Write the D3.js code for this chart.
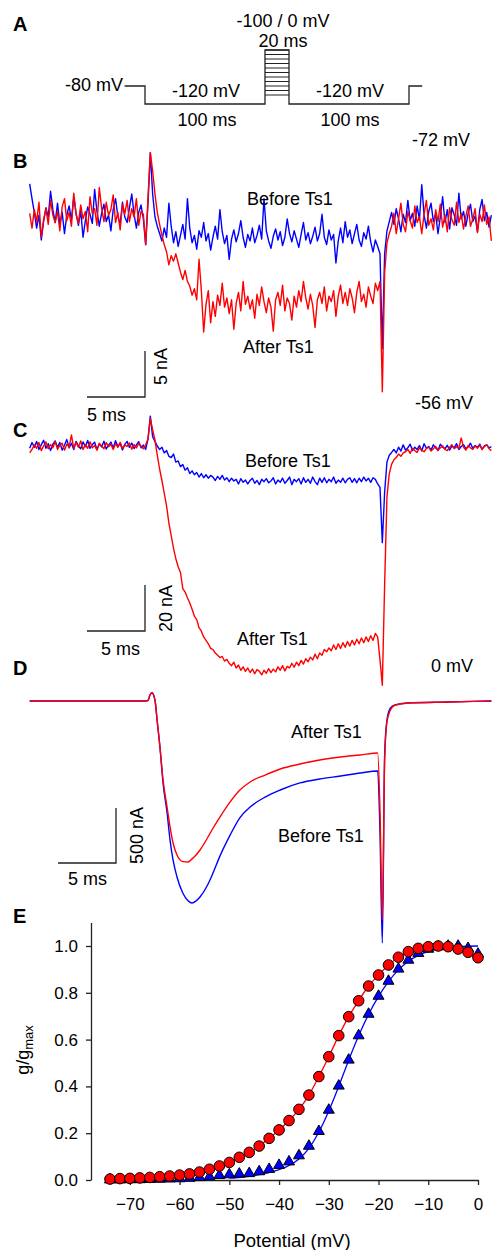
<!DOCTYPE html>
<html>
<head>
<meta charset="utf-8">
<script src="https://cdn.jsdelivr.net/npm/d3@7"></script>
<style>
  body { margin: 0; background: #fff; }
  svg { display: block; font-family: "Liberation Sans", Arial, Helvetica, sans-serif; }
</style>
</head>
<body>
<script>
// ---- data ----
// A: voltage protocol (ms, mV)
const protoT = [-17, 0, 0, 100, 100, 120, 120, 220, 220, 231]
const protoV = [-80, -80, -120, -120, 0, 0, -120, -120, -80, -80]
const stepLevels = [-100, -90, -80, -70, -60, -50, -40, -30, -20, -10, 0]

// B, C: sampled every 0.2 ms; "pre" ends just before the pulse, "pulse" starts at 0 ms, "post" at 20 ms (nA)
const DT = 0.2
const bBluePre = [3.6, 2.0, 0.5, -1.2, 0.2, -2.5, -0.5, 1.0, 0.0, 2.8, 0.8, -0.6, 1.5, -0.8, 0.5, -1.8, 0.2, 1.2, -0.3, 2.2, 0.4, -0.9, 0.7, -2.2, -0.4, 1.1, 0.3, -0.7, 3.0, 0.6, -1.0, 0.4, 1.4, -0.5, 0.2, -1.5, 0.8, 2.0, 0.1, -0.8, 1.6, 0.0, -0.6, 1.0, 2.5, 0.3, -1.2, 0.5, 1.3, -0.2, -3.0]
const bBluePulse = [1.5, 7.0, 2.5, 0.0, -1.0,
  -1.8, -2.6, -1.2, -2.2, 1.5, -1.0, -2.8, -1.6, -3.2, -2.0, -0.8, -2.4, 2.0, -1.2, -2.8, -2.0, -3.5, -1.5, -2.2, -0.6,
  -2.6, -1.8, -3.6, -2.2, -1.0, -2.4, 0.8, -1.6, -2.9, -2.0, -4.6, -2.4, -1.4, -2.7, -1.8, -0.4, -2.2, -3.3, -1.9, -2.6,
  -1.2, -2.8, -2.0, -0.9, -2.4, 2.0, -1.5, -2.6, -3.4, -2.1, -1.3, -2.5, -1.6, -3.1, -2.2, -0.2, -1.8, -2.7, -1.5, -2.4,
  -3.3, -1.9, -0.6, -2.5, -1.7, -2.9, -2.1, -1.1, -2.6, -1.8, 0.3, -2.2, -3.0, -1.4, -2.5, -1.9, -5.0, -2.6, -1.2, -2.8,
  -0.5, -2.2, -1.4, -2.9, -1.8, -0.8, -2.5, -3.2, -1.7, -2.4, -1.0, -2.7, -3.8, -2.5, -3.2]
const bBluePost = [-4.0, -14.3, -4.0, -1.5, -0.5,
  0.5, -0.8, 0.9, -0.2, -1.6, 0.3, -0.6, 1.8, -0.4, 0.4, -1.0, 1.2, -0.3, 3.5, 0.2, -1.2, 0.6, 1.5, -0.5, 0.3, -1.8, 0.0,
  2.2, -0.6, 0.8, -1.3, 1.0, 0.2, -0.9, 2.6, -0.2, 0.6, -1.0, 0.4, 1.4, -0.5, 0.1, -1.6, 0.8, 1.9, -0.4, 0.5, -1.1, 0.2]
const bRedPre = [0.4, -1.2, 0.8, -0.5, 1.6, -2.2, -0.3, 0.9, -0.8, 1.8, 0.2, -0.6, 0.6, -1.5, 1.1, 2.0, -0.4, 0.5, -1.0, 2.6, 0.3, -0.7, 1.3, -0.2, 0.6, -1.6, 2.2, 0.4, 0.9, -0.9, 3.2, 1.0, -0.5, 1.6, 0.2, 0.8, 2.4, -0.6, 0.5, -1.4, 1.4, 0.3, 1.8, -0.5, 0.9, 0.0, 2.0, -0.9, 0.6, 0.3, -3.0]
const bRedPulse = [2.0, 7.0, 5.0, 2.5, 0.5, -0.8, -2.0, -3.0, -3.8, -5.2, -4.2, -4.8, -4.0, -5.0, -6.0, -6.8, -5.8, -7.0, -7.5, -8.5, -7.8, -9.0, -4.6, -8.0, -12.5, -9.5,
  -8.0, -11.5, -9.2, -10.8, -8.5, -9.6, -7.2, -9.8, -8.8, -10.5, -9.0, -12.2, -9.4, -8.2, -10.2, -7.0, -9.5, -8.6, -10.0, -9.0,
  -11.0, -8.4, -9.6, -7.6, -9.2, -10.4, -8.8, -9.8, -12.4, -9.0, -8.2, -9.6, -7.4, -10.2, -8.8, -9.4, -11.2, -8.6, -9.8, -8.0,
  -9.2, -7.0, -8.8, -10.0, -8.4, -9.6, -12.0, -9.0, -8.2, -9.4, -7.6, -10.2, -8.6, -9.2, -8.0, -10.8, -8.6, -7.4, -9.4, -8.2,
  -9.6, -7.8, -8.8, -10.4, -8.2, -7.0, -9.2, -8.4, -9.8, -7.6, -8.6, -9.4, -7.2, -8.0]
const bRedPost = [-7.0, -19.0, -6.0, -2.8, -1.8,
  -1.0, 0.4, -1.8, -0.2, 1.5, -0.8, -1.6, 0.6, -0.4, -1.2, 1.2, -0.6, 0.0, -1.8, 0.3, 1.8, -0.9, -0.2, -1.4, 0.8, -0.5, 1.4,
  -1.1, 0.2, -1.6, 1.0, -0.3, -0.9, 1.6, -0.6, 0.4, -1.3, 0.1, 1.2, -1.0, -0.2, 0.9, -1.7, 0.3, -0.5, 1.3, -0.8, 0.0, -2.6]

const cBluePre = [-1.0, 1.5, -0.5, 2.0, -1.5, 0.5, 2.5, -1.0, 1.0, -2.0, 0.8, 2.2, -0.5, 1.5, -1.8, 0.3, 2.8, -0.8, 1.2, -1.5, 2.0, 0.0, -1.2, 1.8, -0.3, 2.4, -1.0, 0.6, 1.6, -1.6, 0.9, -0.4, 2.1, -1.3, 0.4, 1.7, -0.9, 2.3, -0.2, 1.1, -1.7, 0.7, 2.0, -0.6, 1.3, -1.1, 0.5, 1.9, -0.8, 0.4, -1.5]
const cBluePulse = [3.0, 13.0, 4.0, 2.0, 0.0, -1.5, -0.5, -3.0, -2.0, -4.5, -5.0, -3.5, -7.0, -6.5, -9.0, -8.0, -10.5, -9.5, -12.0, -10.8,
  -12.5, -11.5, -13.5, -12.0, -13.8, -12.5, -14.0, -12.8, -13.5, -15.0, -13.2, -14.5, -12.8, -14.8, -13.8, -15.5, -14.0, -15.2, -14.5, -16.5,
  -14.2, -15.8, -14.8, -16.5, -15.0, -14.0, -16.2, -15.0, -16.8, -14.5, -15.5, -14.2, -16.0, -15.2, -13.8, -16.5, -14.8, -15.8, -14.0, -16.2,
  -15.0, -13.5, -16.8, -14.5, -15.5, -14.2, -16.5, -13.8, -15.8, -14.5, -16.2, -13.5, -15.5, -16.8, -14.0, -15.8, -13.8, -16.0, -14.5, -15.5,
  -13.5, -16.2, -14.8, -15.8, -14.0, -16.0, -14.5, -13.8, -15.8, -14.2, -16.0, -14.0, -15.5, -13.5, -15.2, -14.0, -15.8, -13.8, -14.5, -16.5]
const cBluePost = [-18, -42, -20, -7, -4, -2.8,
  -1.5, -3.0, -0.5, -2.2, 0.5, -1.8, -0.8, 0.8, -2.0, -0.5, -1.5, 0.2, -2.2, 1.0, -1.0, -0.2, -1.8, 0.5, -0.8, -2.0, 0.8, -0.5,
  -1.2, 0.3, -1.8, 0.0, -0.8, 1.0, -1.5, -0.2, 0.6, -1.2, -0.4, 1.2, -1.0, 0.2, -0.6, 0.8, -1.4, 0.0, 0.5, -0.8, -0.3]
const cRedPre = [-3.0, -1.5, 0.5, -1.0, 1.5, -2.0, 0.0, 1.8, -1.2, 0.6, -0.8, 2.0, -1.5, 0.3, 1.2, -1.8, 0.8, -0.5, 4.8, -1.0, 1.5, -0.5, 2.2, -1.5, 0.5, -1.0, 1.8, -0.8, 0.2, -1.8, 1.2, 0.0, -1.2, 1.5, -0.3, 0.8, -1.5, 1.0, -0.6, 1.6, -1.0, 0.4, -0.2, 1.3, -1.4, 0.6, -0.8, 1.1, 0.0, -1.2, 0.5]
const cRedPulse = [3.0, 12.0, 7.0, 2.6, -4.0, -10.0, -15.0, -20.5, -26.0, -33.5, -39.0, -44.5, -49.0, -52.5, -55.0, -62.0, -63.5, -66.0, -68.3, -71.0,
  -74.0, -75.5, -79.0, -80.5, -83.0, -84.5, -86.0, -88.0, -88.5, -90.0, -91.0, -92.0, -91.5, -93.5, -92.8, -94.5, -95.5, -94.0, -96.5, -95.2,
  -97.5, -96.0, -98.0, -96.5, -98.5, -97.0, -99.0, -97.2, -98.0, -99.5, -97.5, -98.8, -96.8, -98.5, -97.0, -98.2, -96.0, -97.5, -95.5, -97.8,
  -95.8, -96.5, -94.5, -96.2, -94.0, -95.5, -93.2, -94.8, -92.5, -93.8, -91.8, -93.0, -90.5, -92.5, -90.0, -91.0, -88.5, -89.5, -87.8, -89.0,
  -86.5, -88.5, -86.0, -88.0, -85.5, -87.5, -85.0, -87.0, -84.5, -86.5, -84.0, -86.0, -83.5, -85.5, -83.0, -85.0, -82.5, -84.5, -81.5, -83.0]
const cRedPost = [-93, -104, -60, -22, -12, -8, -6, -5, -3.5, -4.5, -3.0,
  -2.5, -1.5, -3.2, -1.0, -2.0, -2.8, -0.8, -1.8, -2.5, -1.0, -0.5, -2.2, -1.2, -0.2, -1.8, -0.8, 0.0, -1.5, -2.0,
  -0.5, 0.5, -1.2, -0.3, -1.0, 3.5, -0.5, -1.8, 0.2, -0.8, -1.5, 0.0, -1.0, 0.4, -1.6, -0.2, 0.6, -1.2, -2.0]

// D: smooth traces at 0 mV (ms, nA)
const dTime = [-10.2, -0.4, 0.0, 0.17, 0.34, 0.6, 0.8, 1.03, 1.3, 1.65, 1.9, 2.16, 2.5, 3.0, 3.45, 3.8, 4.1, 4.5, 5.1, 5.5, 6.2, 7.1, 7.9, 8.8, 10.1, 11.4, 13.1, 14.8, 16.6, 18.3, 19.8, 20.0, 20.2, 20.4, 20.6, 20.9, 21.3, 22.4, 25.9, 29.6]
const dRed = [0, 0, 5, 55, 75, 9, -190, -418, -720, -968, -1145, -1291, -1400, -1460, -1464, -1435, -1405, -1352, -1250, -1175, -1055, -915, -812, -736, -673, -618, -573, -536, -509, -491, -473, -1000, -1990, -536, -191, -82, -36, -18, -9, 0]
const dBlue = [0, 0, 5, 55, 75, 9, -190, -418, -750, -1020, -1264, -1445, -1600, -1745, -1815, -1836, -1822, -1780, -1680, -1590, -1410, -1215, -1064, -964, -873, -809, -745, -709, -682, -655, -636, -1200, -2200, -490, -173, -64, -36, -18, -9, 0]

// E: normalised conductance vs potential
const eV = [-74, -72, -70, -68, -66, -64, -62, -60, -58, -56, -54, -52, -50, -48, -46, -44, -42, -40, -38, -36, -34, -32, -30, -28, -26, -24, -22, -20, -18, -16, -14, -12, -10, -8, -6, -4, -2, 0]
const eRed = [0.004, 0.006, 0.007, 0.009, 0.011, 0.014, 0.017, 0.021, 0.026, 0.034, 0.046, 0.06, 0.075, 0.097, 0.118, 0.145, 0.178, 0.214, 0.254, 0.302, 0.363, 0.442, 0.527, 0.617, 0.698, 0.766, 0.829, 0.876, 0.919, 0.952, 0.976, 0.99, 0.997, 1.0, 0.997, 0.987, 0.973, 0.95]
const eBlue = [0.001, 0.001, 0.002, 0.002, 0.003, 0.004, 0.005, 0.006, 0.008, 0.011, 0.014, 0.02, 0.023, 0.026, 0.028, 0.036, 0.046, 0.063, 0.078, 0.104, 0.145, 0.208, 0.299, 0.402, 0.513, 0.617, 0.709, 0.786, 0.85, 0.902, 0.94, 0.969, 0.987, 0.997, 1.0, 1.0, 0.99, 0.966]
const fitV = [-50, -46, -42, -38, -36, -34, -32, -30, -28, -26, -24, -22, -20, -18, -16, -14, -12, -10, -8, -6, -4, -2, 0]
const fitBlue = [0.008, 0.016, 0.032, 0.062, 0.09, 0.135, 0.205, 0.295, 0.4, 0.512, 0.616, 0.708, 0.785, 0.848, 0.898, 0.935, 0.96, 0.977, 0.988, 0.994, 0.997, 0.999, 1.0]
const eTicksX = [-70, -60, -50, -40, -30, -20, -10, 0]
const eTicksY = [0, 0.2, 0.4, 0.6, 0.8, 1.0]

// ---- drawing ----
const BLUE = '#0000ff'
const RED = '#ff0000'
const INK = '#222'

const svg = d3.select('body').append('svg')
  .attr('width', 492)
  .attr('height', 1250)

function text(x, y, s, opts = {}) {
  return svg.append('text')
    .attr('x', x)
    .attr('y', y)
    .attr('font-size', opts.size || 18)
    .attr('font-weight', opts.bold ? 'bold' : null)
    .attr('text-anchor', opts.anchor || 'start')
    .attr('fill', '#000')
    .text(s)
}

function vtext(x, y, s) {
  svg.append('text')
    .attr('transform', `translate(${x},${y}) rotate(-90)`)
    .attr('font-size', 18)
    .attr('fill', '#000')
    .text(s)
}

// panel A
const tA = d3.scaleLinear().domain([0, 100]).range([145, 265])
const vA = d3.scaleLinear().domain([-120, -80]).range([104, 86])

svg.append('path')
  .attr('d', d3.line().x(d => tA(d[0])).y(d => vA(d[1]))(protoT.map((t, i) => [t, protoV[i]])))
  .attr('fill', 'none')
  .attr('stroke', INK)
  .attr('stroke-width', 1.3)

svg.selectAll('line.step')
  .data(stepLevels)
  .enter()
  .append('line')
  .attr('class', 'step')
  .attr('x1', tA(100))
  .attr('x2', tA(120))
  .attr('y1', d => vA(d))
  .attr('y2', d => vA(d))
  .attr('stroke', INK)
  .attr('stroke-width', 1)

text(13, 31, 'A', { bold: true, size: 20 })
text(283, 27, '-100 / 0 mV', { anchor: 'middle' })
text(283, 47, '20 ms', { anchor: 'middle' })
text(123, 91, '-80 mV', { anchor: 'end' })
text(206, 97, '-120 mV', { anchor: 'middle' })
text(207, 126, '100 ms', { anchor: 'middle' })
text(350, 97, '-120 mV', { anchor: 'middle' })
text(350, 126, '100 ms', { anchor: 'middle' })

// traces B-D share one time axis
const tScale = d3.scaleLinear().domain([0, 5]).range([148, 206])

function joinSegments(pre, pulse, post) {
  return [
    ...pre.map((v, i) => [-(pre.length - i) * DT, v]),
    ...pulse.map((v, i) => [i * DT, v]),
    ...post.map((v, i) => [20 + i * DT, v]),
  ]
}

function trace(points, yScale, color, curve) {
  const line = d3.line()
    .x(d => tScale(d[0]))
    .y(d => yScale(d[1]))
  if (curve) line.curve(curve)
  svg.append('path')
    .attr('d', line(points))
    .attr('fill', 'none')
    .attr('stroke', color)
    .attr('stroke-width', 1.4)
    .attr('stroke-linejoin', 'round')
}

function scaleBar(x, y, yScale, amp) {
  const w = tScale(5) - tScale(0)
  const h = yScale(0) - yScale(amp)
  svg.append('path')
    .attr('d', `M${x - w},${y}H${x}V${y - h}`)
    .attr('fill', 'none')
    .attr('stroke', INK)
    .attr('stroke-width', 1.3)
}

// panel B
const yB = d3.scaleLinear().domain([0, 5]).range([217, 171])
trace(joinSegments(bBluePre, bBluePulse, bBluePost), yB, BLUE)
trace(joinSegments(bRedPre, bRedPulse, bRedPost), yB, RED)
text(13, 168, 'B', { bold: true, size: 20 })
text(470, 146, '-72 mV', { anchor: 'end' })
text(247, 205, 'Before Ts1')
text(243, 353, 'After Ts1')
scaleBar(145, 397, yB, 5)
vtext(167, 385, '5 nA')
text(87, 421, '5 ms')

// panel C
const yC = d3.scaleLinear().domain([0, 20]).range([446, 400])
trace(joinSegments(cBluePre, cBluePulse, cBluePost), yC, BLUE)
trace(joinSegments(cRedPre, cRedPulse, cRedPost), yC, RED)
text(13, 437, 'C', { bold: true, size: 20 })
text(473, 409, '-56 mV', { anchor: 'end' })
text(245, 467, 'Before Ts1')
text(237, 645, 'After Ts1')
scaleBar(145, 631, yC, 20)
vtext(172, 632, '20 nA')
text(101, 655, '5 ms')

// panel D
const yD = d3.scaleLinear().domain([0, 500]).range([701, 646])
trace(dTime.map((t, i) => [t, dBlue[i]]), yD, BLUE, d3.curveMonotoneX)
trace(dTime.map((t, i) => [t, dRed[i]]), yD, RED, d3.curveMonotoneX)
text(13, 675, 'D', { bold: true, size: 20 })
text(473, 672, '0 mV', { anchor: 'end' })
text(291, 738, 'After Ts1')
text(278, 842, 'Before Ts1')
scaleBar(116, 863, yD, 500)
vtext(143, 864, '500 nA')
text(68, 885, '5 ms')

// panel E
const xE = d3.scaleLinear().domain([-75, 0]).range([105, 478])
const yE = d3.scaleLinear().domain([0, 1.1]).range([1180, 922.6])

svg.append('g')
  .attr('transform', 'translate(91,0)')
  .call(d3.axisLeft(yE).tickValues(eTicksY).tickFormat(d3.format('.1f')).tickSize(5).tickSizeOuter(0).tickPadding(8))
svg.append('g')
  .attr('transform', 'translate(0,1180)')
  .call(d3.axisBottom(xE).tickValues(eTicksX).tickFormat(d3.format('d')).tickSize(5).tickSizeOuter(0).tickPadding(13))

svg.selectAll('g .domain, g .tick line')
  .attr('stroke', INK)
  .attr('stroke-width', 1.3)
svg.selectAll('g .tick text')
  .attr('font-size', 17)
  .attr('font-family', '"Liberation Sans", Arial, sans-serif')
  .attr('fill', '#000')

text(13, 923, 'E', { bold: true, size: 20 })
text(292, 1247, 'Potential (mV)', { anchor: 'middle', size: 18.5 })
const yLab = svg.append('text')
  .attr('transform', 'translate(29,1050) rotate(-90)')
  .attr('text-anchor', 'middle')
  .attr('font-size', 18)
  .attr('fill', '#000')
yLab.append('tspan').text('g/g')
yLab.append('tspan').attr('font-size', 13).attr('dy', 4).text('max')

const lineE = d3.line()
  .x(d => xE(d[0]))
  .y(d => yE(d[1]))
  .curve(d3.curveMonotoneX)

svg.append('path')
  .attr('d', lineE(fitV.map((v, i) => [v, fitBlue[i]])))
  .attr('fill', 'none')
  .attr('stroke', BLUE)
  .attr('stroke-width', 1.3)
svg.append('path')
  .attr('d', lineE(eV.map((v, i) => [v, eRed[i]])))
  .attr('fill', 'none')
  .attr('stroke', RED)
  .attr('stroke-width', 1.3)

svg.selectAll('path.tri')
  .data(eV.map((v, i) => [v, eBlue[i]]))
  .enter()
  .append('path')
  .attr('class', 'tri')
  .attr('d', d3.symbol(d3.symbolTriangle, 52))
  .attr('transform', d => `translate(${xE(d[0])},${yE(d[1])})`)
  .attr('fill', BLUE)
  .attr('stroke', '#000')
  .attr('stroke-width', 1)

svg.selectAll('circle.dot')
  .data(eV.map((v, i) => [v, eRed[i]]))
  .enter()
  .append('circle')
  .attr('class', 'dot')
  .attr('cx', d => xE(d[0]))
  .attr('cy', d => yE(d[1]))
  .attr('r', 5.3)
  .attr('fill', RED)
  .attr('stroke', '#000')
  .attr('stroke-width', 1)
</script>
</body>
</html>
